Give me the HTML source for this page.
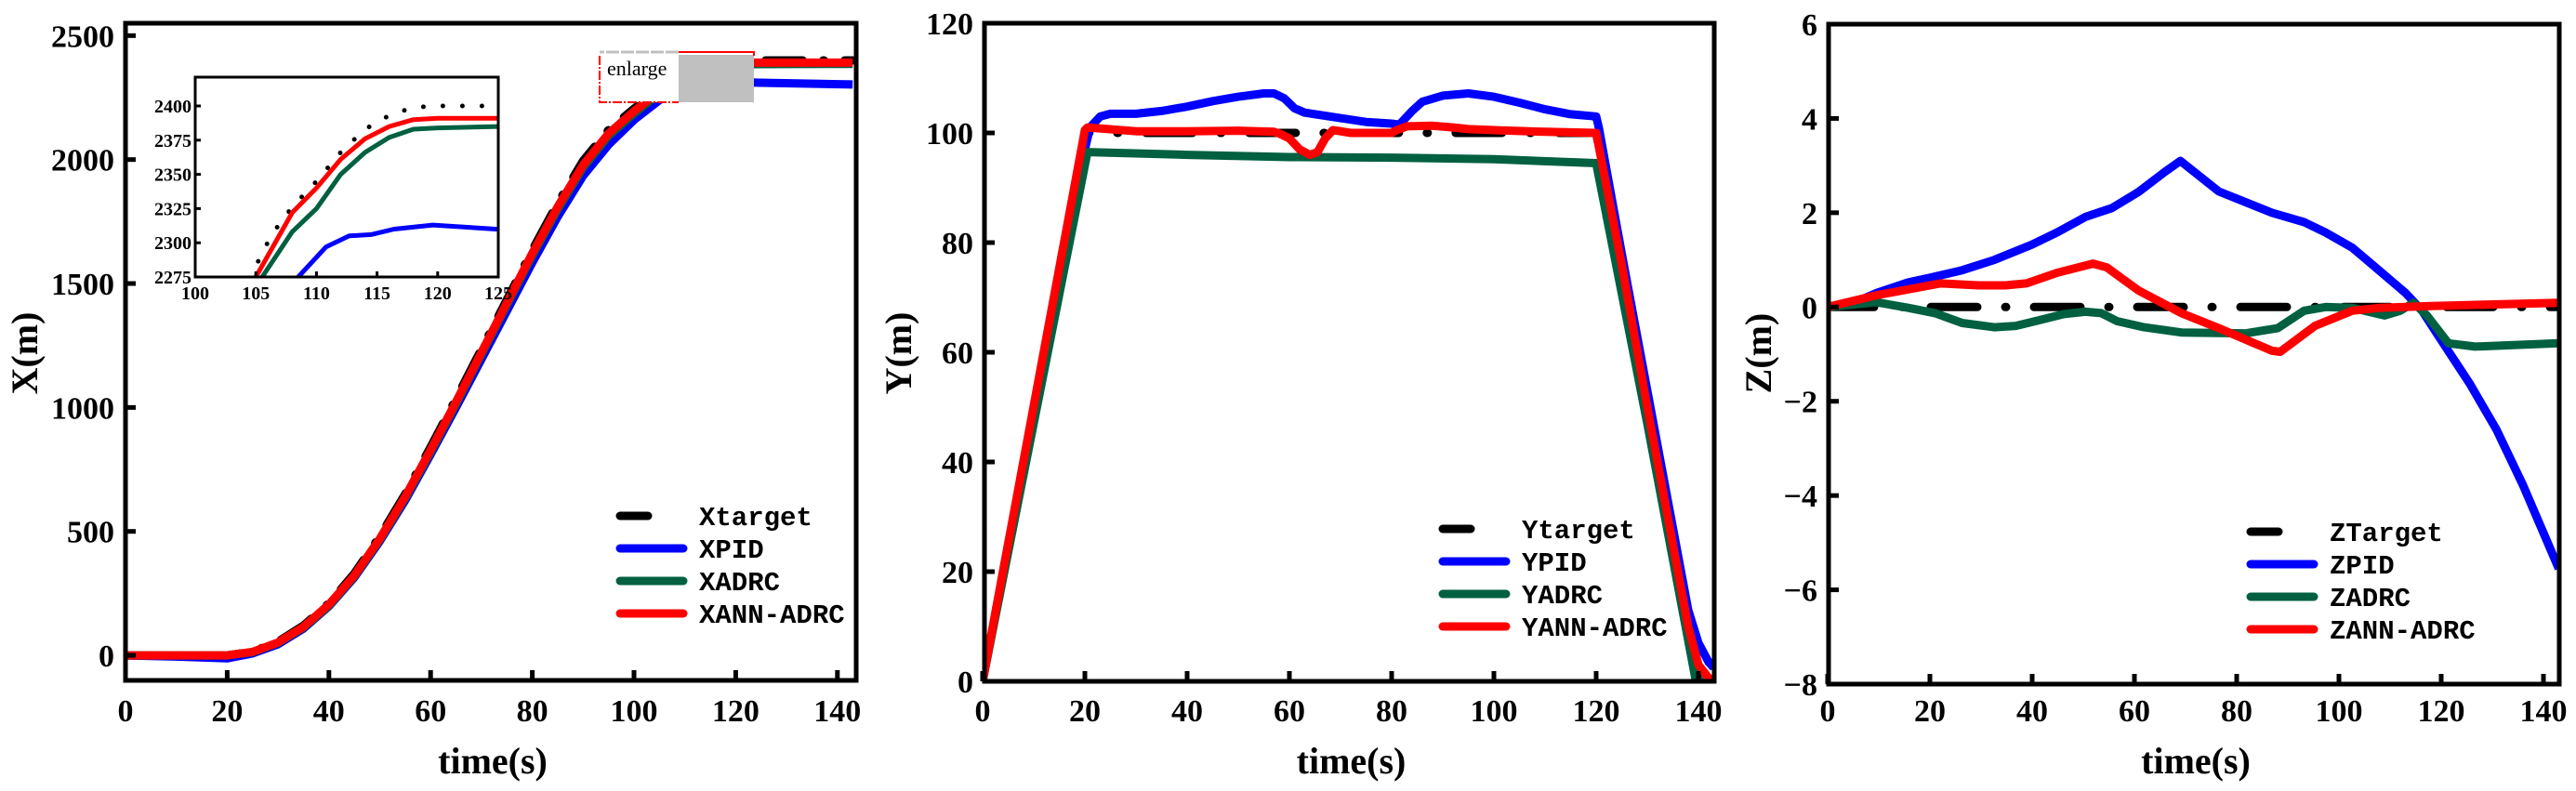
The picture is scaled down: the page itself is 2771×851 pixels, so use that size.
<!DOCTYPE html>
<html><head><meta charset="utf-8">
<style>
html,body{margin:0;padding:0;background:#fff;width:2771px;height:851px;overflow:hidden;}
svg{display:block;}
.tk{font-family:"Liberation Serif",serif;font-weight:bold;font-size:34px;fill:#000;}
.itk{font-family:"Liberation Serif",serif;font-weight:bold;font-size:20px;fill:#000;}
.ttl{font-family:"Liberation Serif",serif;font-weight:bold;font-size:40px;fill:#000;}
.lg{font-family:"Liberation Mono",monospace;font-weight:bold;font-size:29px;fill:#000;}
</style></head>
<body>
<svg id="fig" width="2771" height="851" viewBox="0 0 2771 851" xmlns="http://www.w3.org/2000/svg"></svg>
<script>
// ---------- Panel X data ----------
const xTimeTarget = [0,20,25,30,35,40,45,50,55,60,65,70,75,80,85,90,95,100,105,106.3,108,110,112,114,116,118,120,143];
const xTarget     = [0,0,15,55,120,210,330,480,650,840,1035,1235,1435,1635,1825,1995,2120,2205,2283,2306,2326,2345,2366,2383,2393,2399,2400,2400];
const xTimeCtl    = [0,20,25,30,35,40,45,50,55,60,65,70,75,80,85,90,95,100,105,108,110,112,114,116,118,120,125,143];
const xAnnAdrc    = [0,0,14,52,115,205,322,470,640,828,1022,1222,1422,1622,1810,1978,2105,2195,2275,2322,2340,2361,2376,2385,2390,2391,2391,2391];
const xAdrc       = [0,0,13,50,112,200,318,465,633,820,1014,1214,1414,1613,1800,1968,2095,2185,2268,2308,2325,2350,2366,2377,2383,2384,2385,2386];
const xTimePid    = [0,10,20,25,30,35,40,45,50,55,60,65,70,75,80,85,90,95,100,105,108.5,110.8,112.7,114.5,116.4,119.6,124.8,143];
const xPid        = [0,-5,-12,8,45,108,198,314,460,625,810,1000,1195,1390,1585,1770,1935,2060,2160,2240,2275,2297,2305,2306,2310,2313,2310,2303];
const xTicksY = [0,500,1000,1500,2000,2500];
const xTicksT = [0,20,40,60,80,100,120,140];
const insetTicksY = [2275,2300,2325,2350,2375,2400];
const insetTicksT = [100,105,110,115,120,125];

// ---------- Panel Y data ----------
const yTimeTarget = [0,20,120,140,143];
const yTarget     = [0,100,100,0,0];
const yTimePid = [0,20,21,23,25,30,35,40,45,50,55,57,59,61,63,70,75,80,81.5,84,86,90,95,100,105,110,115,120,120.5,125,130,135,138,140,142,143];
const yPid     = [0,97,101,103,103.5,103.5,104,104.8,105.8,106.6,107.2,107.2,106.3,104.5,103.7,102.7,102,101.7,101.5,104,105.7,106.8,107.2,106.6,105.5,104.3,103.4,103,101,78,53,28,13,7,3.5,2.5];
const yTimeAdrc = [0,20.5,40,60,80,100,120,130,139.5,143];
const yAdrc     = [0,96.5,96,95.6,95.5,95.2,94.5,47,0,0];
const yTimeAnn = [0,20,20.5,30,40,50,57,58,60,62,64,65.5,67,68.5,70,72,80,81,83,88,92,95,100,110,120,125,130,135,138,140,142.5,143];
const yAnn     = [0,100.5,101,100.3,100.3,100.4,100.2,99.9,99,97,96,96.5,99,100.5,100.3,100,100,100.5,101.2,101.3,101,100.7,100.5,100.2,100,76,50,25,10,3,0,0];
const yTicksY = [0,20,40,60,80,100,120];
const yTicksT = [0,20,40,60,80,100,120,140];

// ---------- Panel Z data ----------
const zTimeTarget = [0,143];
const zTarget     = [0,0];
const zTimePid = [0,4.9,9.6,15.7,20,26.3,32.6,39.9,45,50.4,55.6,60.8,66,69,76.5,86.9,93.2,97.4,102.6,107.8,113,116.2,120.4,125.6,130.8,136,143];
const zPid     = [0,0.08,0.3,0.52,0.62,0.78,1.0,1.32,1.59,1.91,2.1,2.44,2.87,3.1,2.45,2.0,1.8,1.58,1.26,0.78,0.3,-0.07,-0.77,-1.63,-2.6,-3.78,-5.55];
const zTimeAdrc = [0,9.6,15.9,21,26.3,32.6,36.8,41,46.2,50.4,53.5,56.6,61.9,69.2,81.7,88,93.2,97.4,102.6,108.9,112,114.6,117.2,121.4,126.6,143];
const zAdrc     = [0,0.1,-0.02,-0.13,-0.34,-0.43,-0.4,-0.29,-0.15,-0.1,-0.13,-0.3,-0.43,-0.54,-0.56,-0.45,-0.08,0,-0.02,-0.18,-0.08,0.09,-0.18,-0.77,-0.84,-0.77];
const zTimeAnn = [0,9.6,22,29.5,34.7,38.9,45,51.9,54.6,60.8,69.2,76.5,86.9,88.5,95.3,102.6,107.8,118,143];
const zAnn     = [0,0.25,0.5,0.46,0.46,0.5,0.73,0.92,0.84,0.35,-0.13,-0.45,-0.93,-0.95,-0.4,-0.08,-0.02,0.02,0.09];
const zTicksY = [-8,-6,-4,-2,0,2,4,6];
const zTicksT = [0,20,40,60,80,100,120,140];

const NS = "http://www.w3.org/2000/svg";
const svg = document.getElementById('fig');
function mk(tag, attrs, parent){
  const e = document.createElementNS(NS, tag);
  for (const k in attrs) e.setAttribute(k, attrs[k]);
  (parent||svg).appendChild(e);
  return e;
}
const BLUE="#0000ff", GREEN="#006040", RED="#ff0000", BLACK="#000000";

function makeScale(d0,d1,r0,r1){ return v => r0 + (v-d0)/(d1-d0)*(r1-r0); }

function drawPanel(cfg){
  const g = mk('g',{});
  
  
  const sx = makeScale(0, cfg.tmax, cfg.x0, cfg.x0 + cfg.tmax*cfg.pxPerS);
  const sy = makeScale(cfg.ymin, cfg.ymax, cfg.bottom, cfg.top);
  const clipId = cfg.name + '-clip';
  const cp = mk('clipPath',{id:clipId}, g);
  mk('rect',{x:cfg.left,y:cfg.top,width:cfg.right-cfg.left,height:cfg.bottom-cfg.top}, cp);
  const plot = mk('g',{'clip-path':'url(#'+clipId+')'}, g);
  cfg.series.forEach(s=>{
    const pts = s.t.map((t,i)=> sx(t).toFixed(1)+','+sy(s.v[i]).toFixed(1)).join(' ');
    const pl = mk('polyline',{points:pts,fill:'none',stroke:s.color,'stroke-width':s.w||9,'stroke-linejoin':'round','stroke-linecap':s.cap||'butt'}, plot);
    if (s.dash) pl.setAttribute('stroke-dasharray', s.dash);
    
    
  });
  const fr = mk('rect',{x:cfg.left,y:cfg.top,width:cfg.right-cfg.left,height:cfg.bottom-cfg.top,fill:'none',stroke:'#000','stroke-width':5}, g);
  
  
  cfg.yTicks.forEach(v=>{
    const y = sy(v);
    mk('line',{x1:cfg.left,x2:cfg.left+11,y1:y,y2:y,stroke:'#000','stroke-width':5}, g);
    const tx = mk('text',{x:cfg.left-12,y:y+12,'text-anchor':'end',class:'tk'}, g);
    tx.textContent = v<0 ? '\u2212'+(-v) : String(v);
    
    
  });
  cfg.xTicks.forEach(v=>{
    const x = sx(v);
    mk('line',{x1:x,x2:x,y1:cfg.bottom,y2:cfg.bottom-11,stroke:'#000','stroke-width':5}, g);
    const tx = mk('text',{x:x,y:776,'text-anchor':'middle',class:'tk'}, g);
    tx.textContent = String(v);
    
    
  });
  const xt = mk('text',{x:(cfg.left+cfg.right)/2 + 2,y:832,'text-anchor':'middle',class:'ttl'}, g);
  xt.textContent = 'time(s)';
  
  
  const yt = mk('text',{x:0,y:0,'text-anchor':'middle',class:'ttl',transform:'translate('+(cfg.ylabX+14)+',380) rotate(-90)'}, g);
  yt.textContent = cfg.ylabel;
  
  
  const lg = mk('g',{}, g);
  
  
  cfg.series.slice().sort((a,b)=>a.lorder-b.lorder).forEach((s,i)=>{
    const y = cfg.legY + i*35;
    const ln = mk('line',{x1:cfg.legX,x2:cfg.legX+68,y1:y,y2:y,stroke:s.color,'stroke-width':9,'stroke-linecap':'round'}, lg);
    if (s.legDash) ln.setAttribute('stroke-dasharray', s.legDash);
    
    
    const tx = mk('text',{x:cfg.legX+85,y:y+10,class:'lg'}, lg);
    tx.textContent = s.label;
    
    
  });
  return {sx, sy};
}

const tgtDash = "40 22 1 22";
drawPanel({name:'x-panel', left:135,right:921,top:25,bottom:732, x0:135,pxPerS:5.47,tmax:143.6,
  ymin:-101, ymax:2550, ylabel:'X(m)', ylabX:26, yTicks:xTicksY, xTicks:xTicksT, legX:667, legY:555,
  series:[
    {name:'xtarget-line',label:'Xtarget',t:xTimeTarget,v:xTarget,color:BLACK,dash:tgtDash,cap:'round',lorder:0,legDash:"30 40 1 60"},
    {name:'xpid-line',label:'XPID',t:xTimePid,v:xPid,color:BLUE,lorder:1},
    {name:'xadrc-line',label:'XADRC',t:xTimeCtl,v:xAdrc,color:GREEN,lorder:2},
    {name:'xann-adrc-line',label:'XANN-ADRC',t:xTimeCtl,v:xAnnAdrc,color:RED,lorder:3}
  ]});

drawPanel({name:'y-panel', left:1059,right:1844,top:25,bottom:733, x0:1057,pxPerS:5.5,tmax:143.1,
  ymin:0, ymax:120, ylabel:'Y(m)', ylabX:966, yTicks:yTicksY, xTicks:yTicksT, legX:1552, legY:569,
  series:[
    {name:'ytarget-line',label:'Ytarget',t:yTimeTarget,v:yTarget,color:BLACK,dash:"50 30 1 30",cap:'round',lorder:0,legDash:"30 40 1 60"},
    {name:'ypid-line',label:'YPID',t:yTimePid,v:yPid,color:BLUE,lorder:1},
    {name:'yadrc-line',label:'YADRC',t:yTimeAdrc,v:yAdrc,color:GREEN,lorder:2},
    {name:'yann-adrc-line',label:'YANN-ADRC',t:yTimeAnn,v:yAnn,color:RED,lorder:3}
  ]});

drawPanel({name:'z-panel', left:1967,right:2753,top:26,bottom:736, x0:1966,pxPerS:5.5,tmax:143.1,
  ymin:-8, ymax:6, ylabel:'Z(m)', ylabX:1891, yTicks:zTicksY, xTicks:zTicksT, legX:2421, legY:572,
  series:[
    {name:'ztarget-line',label:'ZTarget',t:zTimeTarget,v:zTarget,color:BLACK,dash:"50 30 1 30",cap:'round',lorder:0,legDash:"30 40 1 60"},
    {name:'zpid-line',label:'ZPID',t:zTimePid,v:zPid,color:BLUE,lorder:1},
    {name:'zadrc-line',label:'ZADRC',t:zTimeAdrc,v:zAdrc,color:GREEN,lorder:2},
    {name:'zann-adrc-line',label:'ZANN-ADRC',t:zTimeAnn,v:zAnn,color:RED,lorder:3}
  ]});

// ---------- Enlarge marker ----------
const enl = mk('g',{});


mk('rect',{x:645,y:58,width:85,height:52,fill:'#fff'}, enl);
mk('rect',{x:730,y:59,width:81,height:51,fill:'#c0c0c0'}, enl);
mk('polyline',{points:'730,56 645,56',fill:'none',stroke:'#c0c0c0','stroke-width':3,'stroke-dasharray':'14 2'}, enl);
mk('polyline',{points:'645,60 645,110 730,110',fill:'none',stroke:'#ff0000','stroke-width':2,'stroke-dasharray':'10 2 2 2'}, enl);
mk('polyline',{points:'730,56 811,56 811,60',fill:'none',stroke:'#ff0000','stroke-width':2}, enl);
const et = mk('text',{x:653,y:81,'font-family':'"Liberation Serif",serif','font-size':'22px',fill:'#000'}, enl);
et.textContent = 'enlarge';



// ---------- Inset ----------
const ins = mk('g',{});


mk('rect',{x:210,y:83,width:326,height:215,fill:'#fff'}, ins);
const isx = makeScale(100,125,210,536);
const isy = makeScale(2275,2400,298,114);
const icp = mk('clipPath',{id:'inset-clip'}, ins);
mk('rect',{x:210,y:83,width:326,height:215}, icp);
const ip = mk('g',{'clip-path':'url(#inset-clip)'}, ins);
[[xTimeTarget,xTarget,BLACK,'inset-xtarget'],[xTimePid,xPid,BLUE,'inset-xpid'],[xTimeCtl,xAdrc,GREEN,'inset-xadrc'],[xTimeCtl,xAnnAdrc,RED,'inset-xann-adrc']].forEach(([t,v,c,n])=>{
  const pts = t.map((tt,i)=>isx(tt).toFixed(1)+','+isy(v[i]).toFixed(1)).join(' ');
  const pl = mk('polyline',{points:pts,fill:'none',stroke:c,'stroke-width':5,'stroke-linejoin':'round'}, ip);
  if (c===BLACK){ pl.setAttribute('stroke-dasharray','0 21'); pl.setAttribute('stroke-linecap','round'); }
  
  
});
mk('rect',{x:210,y:83,width:326,height:215,fill:'none',stroke:'#000','stroke-width':3}, ins);
insetTicksY.forEach(v=>{
  const y = isy(v);
  mk('line',{x1:210,x2:216,y1:y,y2:y,stroke:'#000','stroke-width':3}, ins);
  const tx = mk('text',{x:206,y:y+7,'text-anchor':'end',class:'itk'}, ins);
  tx.textContent = String(v);
  
  
});
insetTicksT.forEach(v=>{
  const x = isx(v);
  mk('line',{x1:x,x2:x,y1:298,y2:292,stroke:'#000','stroke-width':3}, ins);
  const tx = mk('text',{x:x,y:322,'text-anchor':'middle',class:'itk'}, ins);
  tx.textContent = String(v);
  
  
});
</script>
</body></html>
